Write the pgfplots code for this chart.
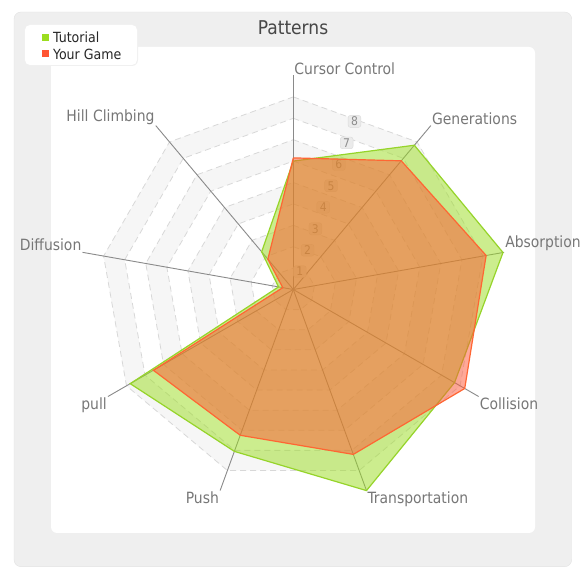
\documentclass[border=0pt]{standalone}
\usepackage{fontspec}
\setmainfont{DejaVu Sans Condensed}
\usepackage{pgfplots}
\pgfplotsset{compat=1.18}
\usepgfplotslibrary{polar}
\definecolor{panel}{HTML}{EFEFEF}
\definecolor{panelborder}{HTML}{E2E2E2}
\definecolor{band}{HTML}{F6F6F6}
\definecolor{ringline}{HTML}{D8D8D8}
\definecolor{spoke}{HTML}{8A8A8A}
\definecolor{labgray}{HTML}{777777}
\definecolor{tgreen}{HTML}{9BDD1F}
\definecolor{tgreenline}{HTML}{96D42A}
\definecolor{yorange}{HTML}{FF5533}
\definecolor{yorangeline}{HTML}{FF6633}
\definecolor{tickbox}{HTML}{EBEBEB}
\definecolor{tickboxline}{HTML}{DADADA}
\newcommand{\ring}[2]{\addplot[forget plot, draw=ringline, line width=0.8pt, dash pattern=on 6pt off 4pt, fill=#2] coordinates {(90,#1) (50,#1) (10,#1) (330,#1) (290,#1) (250,#1) (210,#1) (170,#1) (130,#1) (90,#1)};}
\newcommand{\spk}[1]{\addplot[forget plot, draw=spoke, line width=0.9pt] coordinates {(#1,0) (#1,10)};}
\begin{document}
\begin{tikzpicture}[x=1pt,y=1pt]
\path[use as bounding box] (0,0) rectangle (582,568);
\fill[panel, draw=panelborder, rounded corners=7pt] (14,1.3) rectangle (571.7,556);
\fill[white, rounded corners=6pt] (51,35) rectangle (535,521);
\node[font=\fontsize{19}{22}\selectfont, text=black!72] at (293,540) {Patterns};
\begin{polaraxis}[
  at={(293.3pt,278.5pt)}, anchor=center,
  scale only axis, width=428pt, height=428pt,
  xmin=0, xmax=360, ymin=0, ymax=10,
  hide axis, clip=false,
]
\ring{9}{band}
\ring{8}{white}
\ring{7}{band}
\ring{6}{white}
\ring{5}{band}
\ring{4}{white}
\ring{3}{band}
\ring{2}{white}
\ring{1}{band}
\spk{90}\spk{50}\spk{10}\spk{330}\spk{290}\spk{250}\spk{210}\spk{170}\spk{130}
\tikzset{tl/.style={fill=tickbox, draw=tickboxline, rounded corners=2.5pt, inner xsep=3pt, inner ysep=1.5pt, text=black!45, font=\fontsize{12}{13}\selectfont}}
\node[tl] at (axis cs:70,0.89) {1};
\node[tl] at (axis cs:70,1.95) {2};
\node[tl] at (axis cs:70,3.02) {3};
\node[tl] at (axis cs:70,4.09) {4};
\node[tl] at (axis cs:70,5.16) {5};
\node[tl] at (axis cs:70,6.22) {6};
\node[tl] at (axis cs:70,7.29) {7};
\node[tl] at (axis cs:70,8.36) {8};
% Tutorial
\addplot[draw=tgreenline, line width=1.2pt, fill=tgreen, fill opacity=0.5, draw opacity=1]
  coordinates {(90,6.0) (50,8.8) (10,9.95) (330,8.7) (290,10.0) (250,8.05) (210,8.8) (170,0.7) (130,2.3) (90,6.0)};
% Your Game
\addplot[draw=yorangeline, line width=1.2pt, fill=yorange, fill opacity=0.5, draw opacity=1]
  coordinates {(90,6.15) (50,7.85) (10,9.15) (330,9.25) (290,8.2) (250,7.25) (210,7.55) (170,0.5) (130,1.85) (90,6.15)};
\tikzset{al/.style={text=labgray, font=\fontsize{15.5}{17}\selectfont, inner sep=1pt}}
\node[al, anchor=south west] at (axis cs:90,10) {Cursor Control};
\node[al, anchor=south west] at (axis cs:50,10) {Generations};
\node[al, anchor=south west] at (axis cs:10,10) {Absorption};
\node[al, anchor=north west] at (axis cs:330,10) {Collision};
\node[al, anchor=north west] at (axis cs:290,10) {Transportation};
\node[al, anchor=north east] at (axis cs:250,10) {Push};
\node[al, anchor=north east] at (axis cs:210,10) {pull};
\node[al, anchor=south east] at (axis cs:170,10) {Diffusion};
\node[al, anchor=south east] at (axis cs:130,10) {Hill Climbing};
\end{polaraxis}
% legend
\fill[black!6, rounded corners=6pt] (24,502) rectangle (138,544);
\fill[white, rounded corners=5pt] (25,503) rectangle (137,543);
\fill[tgreen] (42,527) rectangle (49,534);
\fill[yorange] (42,510.5) rectangle (49,517.5);
\node[anchor=west, inner sep=0pt, font=\fontsize{14}{16}\selectfont, text=black!85] at (53,530.5) {Tutorial};
\node[anchor=west, inner sep=0pt, font=\fontsize{14}{16}\selectfont, text=black!85] at (53,514) {Your Game};
\end{tikzpicture}
\end{document}
